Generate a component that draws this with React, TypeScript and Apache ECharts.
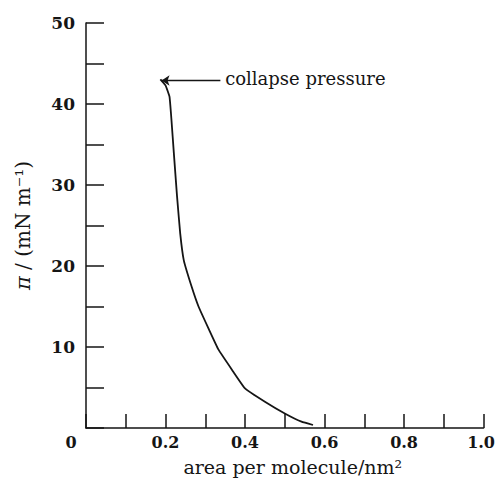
import React, { useEffect, useRef } from "react";
import * as echarts from "echarts";

// area per molecule / nm^2
const areaValues = [0.187, 0.2, 0.21, 0.215, 0.221, 0.229, 0.237, 0.246, 0.266, 0.283, 0.308, 0.333, 0.367, 0.4, 0.45, 0.5, 0.542, 0.571];
// surface pressure / mN m^-1
const pressureValues = [43.05, 42.3, 40.9, 38.0, 33.9, 28.6, 24.0, 20.7, 17.4, 15.0, 12.3, 9.7, 7.2, 4.9, 3.25, 1.8, 0.78, 0.37];

const xTickLabels = ["0", "0.2", "0.4", "0.6", "0.8", "1.0"];
const yTickLabels = ["10", "20", "30", "40", "50"];

const annotationText = "collapse pressure";
const arrowTail = [0.338, 42.9];
const arrowTip = [0.19, 42.9];
const annotationAnchor = [0.35, 43.1];

const ink = "#151515";

export default function App() {
  const ref = useRef<HTMLDivElement>(null);
  useEffect(() => {
    if (!ref.current) return;
    const chart = echarts.init(ref.current, undefined, { renderer: "svg" });
    const data = areaValues.map((a, i) => [a, pressureValues[i]]);
    chart.setOption({
      animation: false,
      backgroundColor: "#ffffff",
      grid: { left: 86, right: 12, top: 23, bottom: 63, containLabel: false },
      xAxis: {
        type: "value",
        min: 0,
        max: 1,
        interval: 0.1,
        name: "area per molecule/nm²",
        nameLocation: "middle",
        nameGap: 29,
        nameTextStyle: { fontFamily: "DejaVu Serif", fontSize: 19, color: ink, padding: [0, 0, 0, 16] },
        splitLine: { show: false },
        axisLine: { lineStyle: { color: ink, width: 1.5 } },
        axisTick: { inside: true, length: 14, lineStyle: { color: ink, width: 1.5 } },
        axisLabel: {
          margin: 6,
          fontFamily: "DejaVu Serif",
          fontWeight: "bold",
          fontSize: 16,
          color: ink,
          formatter: (v: number) => {
            const k = Math.round(v * 10);
            if (k % 2 !== 0) return "";
            const s = xTickLabels[k / 2];
            if (k === 0) return "{z|" + s + "}";
            if (k === 10) return "{e|" + s + "}";
            return s;
          },
          rich: {
            z: { fontFamily: "DejaVu Serif", fontWeight: "bold", fontSize: 16, color: ink, padding: [0, 30, 0, 0] },
            e: { fontFamily: "DejaVu Serif", fontWeight: "bold", fontSize: 16, color: ink, padding: [0, 5, 0, 0] },
          },
        },
      },
      yAxis: {
        type: "value",
        min: 0,
        max: 50,
        interval: 5,
        name: "{pi|π} / (mN m⁻¹)",
        nameLocation: "middle",
        nameGap: 53,
        nameTextStyle: {
          fontFamily: "DejaVu Serif",
          fontSize: 20,
          color: ink,
          rich: { pi: { fontFamily: "DejaVu Serif", fontStyle: "italic", fontSize: 21, color: ink } },
        },
        splitLine: { show: false },
        axisLine: { lineStyle: { color: ink, width: 1.5 } },
        axisTick: { inside: true, length: 18, lineStyle: { color: ink, width: 1.5 } },
        axisLabel: {
          margin: 11,
          fontFamily: "DejaVu Serif",
          fontWeight: "bold",
          fontSize: 17,
          color: ink,
          formatter: (v: number) => {
            const k = Math.round(v);
            if (k === 0 || k % 10 !== 0) return "";
            return yTickLabels[k / 10 - 1];
          },
        },
      },
      series: [
        {
          type: "line",
          data,
          smooth: 0.12,
          showSymbol: false,
          symbol: "none",
          silent: true,
          lineStyle: { color: ink, width: 1.8 },
          markLine: {
            silent: true,
            symbol: ["none", "arrow"],
            symbolSize: 8,
            label: { show: false },
            lineStyle: { color: ink, width: 1.3, type: "solid" },
            data: [[{ coord: arrowTail }, { coord: arrowTip }]],
          },
          markPoint: {
            silent: true,
            symbol: "circle",
            symbolSize: 0,
            itemStyle: { color: "transparent" },
            label: {
              show: true,
              position: "right",
              distance: 0,
              formatter: annotationText,
              fontFamily: "DejaVu Serif",
              fontSize: 18,
              color: ink,
            },
            data: [{ coord: annotationAnchor }],
          },
        },
      ],
    });
    return () => chart.dispose();
  }, []);
  return <div ref={ref} style={{ position: "absolute", left: 0, top: 0, width: 498, height: 491 }} />;
}
